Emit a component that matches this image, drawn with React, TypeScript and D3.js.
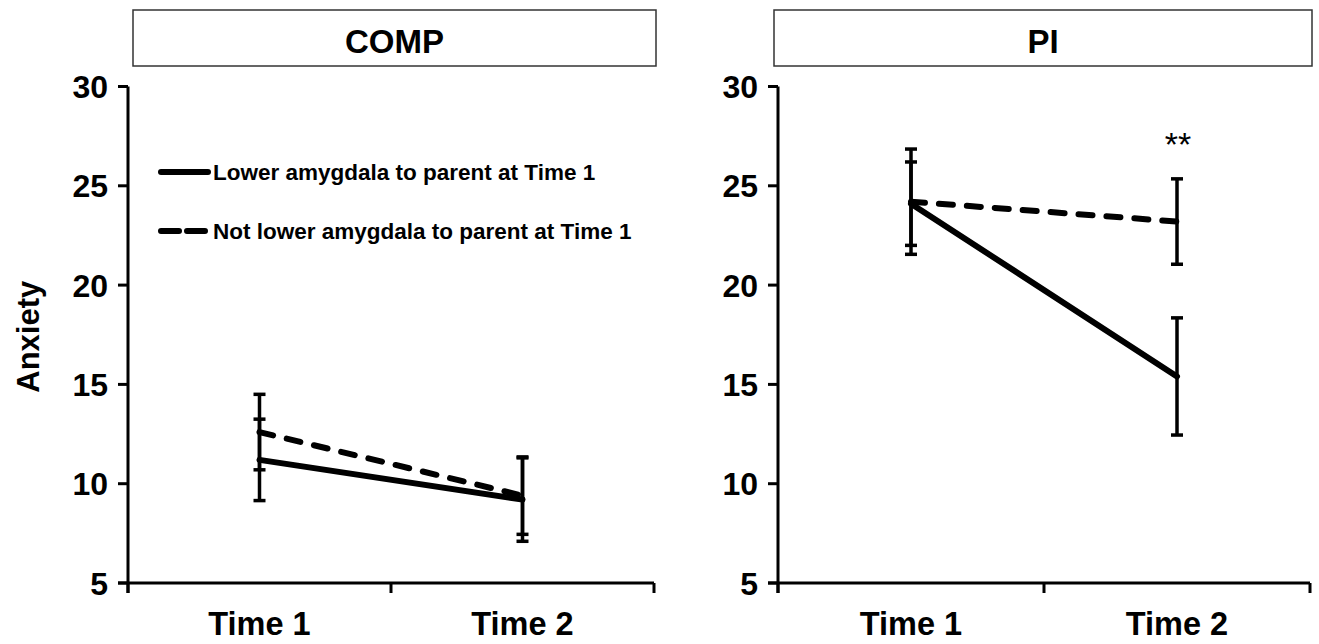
import React from "react";
import * as d3 from "d3";

const categories = ["Time 1", "Time 2"];
const panelTitles = ["COMP", "PI"];
const seriesNames = [
  "Lower amygdala to parent at Time 1",
  "Not lower amygdala to parent at Time 1",
];
const yTicks = [5, 10, 15, 20, 25, 30];

const compLower = [11.2, 9.2];
const compLowerErr = [2.05, 2.1];
const compNotLower = [12.6, 9.4];
const compNotLowerErr = [1.9, 1.95];

const piLower = [24.1, 15.4];
const piLowerErr = [2.1, 2.95];
const piNotLower = [24.2, 23.2];
const piNotLowerErr = [2.65, 2.15];

const annotation = "**";
const yLabel = "Anxiety";

const W = 1319;
const H = 644;
const FONT = "'Liberation Sans', Arial, sans-serif";

const panelLayout = [
  { x0: 128, x1: 654, boxX0: 133, boxX1: 656 },
  { x0: 778, x1: 1310, boxX0: 774, boxX1: 1312 },
];
const yTop = 86.5;
const yBottom = 583;

const panelData = [
  [
    { values: compLower, errs: compLowerErr, dashed: false },
    { values: compNotLower, errs: compNotLowerErr, dashed: true },
  ],
  [
    { values: piLower, errs: piLowerErr, dashed: false },
    { values: piNotLower, errs: piNotLowerErr, dashed: true },
  ],
];

function Panel({ idx }: { idx: number }) {
  const lay = panelLayout[idx];
  const x = d3.scaleBand<string>().domain(categories).range([lay.x0, lay.x1]).padding(0);
  const y = d3.scaleLinear().domain([5, 30]).range([yBottom, yTop]);
  const cx = (c: string) => (x(c) as number) + x.bandwidth() / 2;
  const line = d3
    .line<number>()
    .x((_, i) => cx(categories[i]))
    .y((d) => y(d));
  const boundaries = [lay.x0, ...categories.map((c) => (x(c) as number) + x.bandwidth())];
  const capHalf = 6;
  return (
    <g>
      <rect
        x={lay.boxX0}
        y={10}
        width={lay.boxX1 - lay.boxX0}
        height={56}
        fill="#fff"
        stroke="#333"
        strokeWidth={1.5}
      />
      <text
        x={(lay.boxX0 + lay.boxX1) / 2}
        y={53}
        textAnchor="middle"
        fontFamily={FONT}
        fontWeight="bold"
        fontSize={33}
        fill="#000"
      >
        {panelTitles[idx]}
      </text>
      <line x1={lay.x0} x2={lay.x0} y1={y(30)} y2={yBottom + 10} stroke="#000" strokeWidth={3} />
      {yTicks.map((t) => (
        <g key={t}>
          <line x1={lay.x0 - 10} x2={lay.x0} y1={y(t)} y2={y(t)} stroke="#000" strokeWidth={3} />
          <text
            x={lay.x0 - 20}
            y={y(t) + 11.5}
            textAnchor="end"
            fontFamily={FONT}
            fontWeight="bold"
            fontSize={32}
            fill="#000"
          >
            {t}
          </text>
        </g>
      ))}
      <line x1={lay.x0 - 10} x2={lay.x1} y1={yBottom} y2={yBottom} stroke="#000" strokeWidth={3} />
      {boundaries.map((b, i) => (
        <line key={i} x1={b} x2={b} y1={yBottom} y2={yBottom + 10} stroke="#000" strokeWidth={3} />
      ))}
      {categories.map((c) => (
        <text
          key={c}
          x={cx(c)}
          y={635}
          textAnchor="middle"
          fontFamily={FONT}
          fontWeight="bold"
          fontSize={32.5}
          fill="#000"
        >
          {c}
        </text>
      ))}
      {panelData[idx].map((s, si) =>
        s.values.map((v, i) => {
          const px = cx(categories[i]);
          const hi = y(v + s.errs[i]);
          const lo = y(v - s.errs[i]);
          return (
            <g key={`${si}-${i}`} stroke="#000" strokeWidth={3.5}>
              <line x1={px} x2={px} y1={hi} y2={lo} />
              <line x1={px - capHalf} x2={px + capHalf} y1={hi} y2={hi} />
              <line x1={px - capHalf} x2={px + capHalf} y1={lo} y2={lo} />
            </g>
          );
        })
      )}
      {panelData[idx].map((s, si) => (
        <path
          key={si}
          d={line(s.values) || ""}
          fill="none"
          stroke="#000"
          strokeWidth={6}
          strokeLinecap="round"
          strokeDasharray={s.dashed ? "14 14" : undefined}
        />
      ))}
    </g>
  );
}

export default function App() {
  const yPi = d3.scaleLinear().domain([5, 30]).range([yBottom, yTop]);
  const xPi = d3.scaleBand<string>().domain(categories).range([panelLayout[1].x0, panelLayout[1].x1]);
  const starX = (xPi(categories[1]) as number) + xPi.bandwidth() / 2 + 1;
  return (
    <svg
      width={W}
      height={H}
      style={{ position: "absolute", left: 0, top: 0, background: "#fff" }}
    >
      <rect x={0} y={0} width={W} height={H} fill="#fff" />
      <Panel idx={0} />
      <Panel idx={1} />
      <text
        transform={`translate(39, ${(yTop + yBottom) / 2 + 2}) rotate(-90)`}
        textAnchor="middle"
        fontFamily={FONT}
        fontWeight="bold"
        fontSize={31}
        fill="#000"
      >
        {yLabel}
      </text>
      {seriesNames.map((name, i) => {
        const ly = 172 + i * 59;
        return (
          <g key={name}>
            <line
              x1={161}
              x2={208}
              y1={ly}
              y2={ly}
              stroke="#000"
              strokeWidth={6}
              strokeLinecap="round"
              strokeDasharray={i === 1 ? "18 8" : undefined}
            />
            <text
              x={213}
              y={ly + 8}
              fontFamily={FONT}
              fontWeight="bold"
              fontSize={22.5}
              fill="#000"
            >
              {name}
            </text>
          </g>
        );
      })}
      <text
        x={starX}
        y={yPi(27.3) + 16}
        textAnchor="middle"
        fontFamily={FONT}
        fontSize={34}
        fill="#000"
      >
        {annotation}
      </text>
    </svg>
  );
}
